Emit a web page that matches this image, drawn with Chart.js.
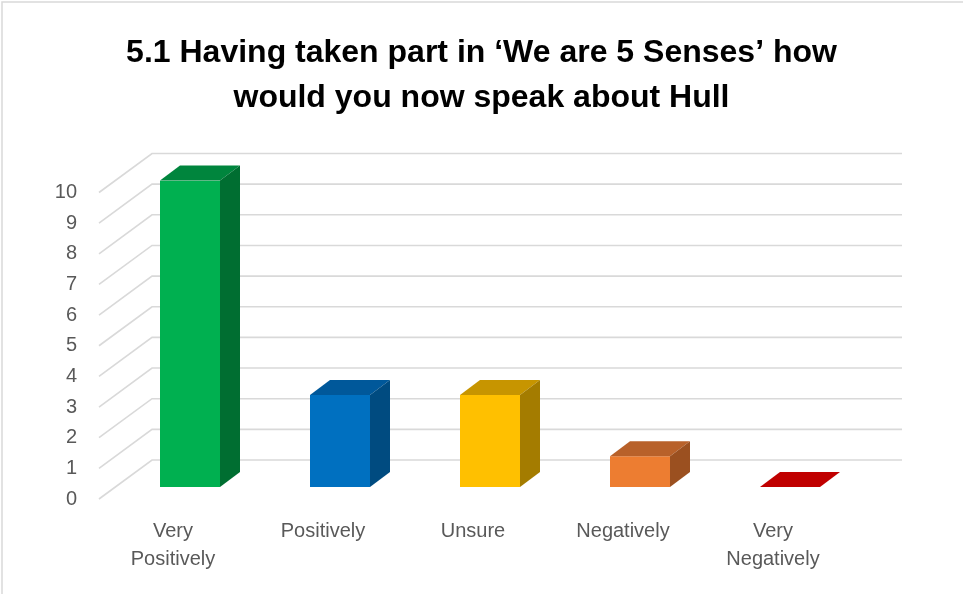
<!DOCTYPE html>
<html>
<head>
<meta charset="utf-8">
<script src="https://cdn.jsdelivr.net/npm/chart.js@4/dist/chart.umd.min.js"></script>
<style>
  html, body { margin: 0; padding: 0; background: #ffffff; }
  canvas { display: block; }
</style>
</head>
<body>
<canvas id="c" width="963" height="594"></canvas>
<script>
// ---- data ----
const titleLines = ['5.1 Having taken part in \u2018We are 5 Senses\u2019 how', 'would you now speak about Hull'];
const categories = ['Very Positively', 'Positively', 'Unsure', 'Negatively', 'Very Negatively'];
const responses = [10, 3, 3, 1, 0];
const yTicks = [0, 1, 2, 3, 4, 5, 6, 7, 8, 9, 10];

// ---- styles ----
const frontColors = ['#00B050', '#0070C0', '#FFC000', '#ED7D31', '#C00000'];
const topColors   = ['#00853D', '#00589A', '#C79500', '#B8612A', '#C00000'];
const sideColors  = ['#006E31', '#004B80', '#A47C00', '#9B5020', '#8F0000'];

const DEPTH_DX = 20, DEPTH_DY = -15;   // bar depth
const WALL_DX = 37, WALL_DY = -27;     // back wall offset from bar front plane
const FRONT_DX = -16, FRONT_DY = 12;   // front plane offset from bar front plane
const GRID = '#d9d9d9';

const threeD = {
  id: 'threeD',
  beforeDraw(chart) {
    const ctx = chart.ctx;
    ctx.save();
    ctx.fillStyle = '#ffffff';
    ctx.fillRect(0, 0, chart.width, chart.height);
    ctx.strokeStyle = GRID;
    ctx.lineWidth = 1.5;
    ctx.beginPath();
    ctx.moveTo(2, chart.height); ctx.lineTo(2, 2); ctx.lineTo(chart.width, 2);
    ctx.stroke();
    ctx.restore();
  },
  beforeDatasetsDraw(chart) {
    const ctx = chart.ctx, y = chart.scales.y, area = chart.chartArea;
    ctx.save();
    ctx.strokeStyle = GRID;
    ctx.lineWidth = 1.6;
    yTicks.forEach(v => {
      const py = y.getPixelForValue(v);
      ctx.beginPath();
      ctx.moveTo(area.left + FRONT_DX, py + FRONT_DY);
      ctx.lineTo(area.left + WALL_DX, py + WALL_DY);
      ctx.lineTo(area.right + WALL_DX, py + WALL_DY);
      ctx.stroke();
    });
    ctx.restore();
  },
  afterDatasetsDraw(chart) {
    const ctx = chart.ctx;
    const meta = chart.getDatasetMeta(0);
    ctx.save();
    meta.data.forEach((bar, i) => {
      const x1 = bar.x - bar.width / 2, x2 = bar.x + bar.width / 2;
      const top = bar.y, base = bar.base;
      ctx.fillStyle = topColors[i];
      ctx.beginPath();
      ctx.moveTo(x1, top);
      ctx.lineTo(x2, top);
      ctx.lineTo(x2 + DEPTH_DX, top + DEPTH_DY);
      ctx.lineTo(x1 + DEPTH_DX, top + DEPTH_DY);
      ctx.closePath();
      ctx.fill();
      if (base - top > 0.5) {
        ctx.fillStyle = sideColors[i];
        ctx.beginPath();
        ctx.moveTo(x2, top);
        ctx.lineTo(x2 + DEPTH_DX, top + DEPTH_DY);
        ctx.lineTo(x2 + DEPTH_DX, base + DEPTH_DY);
        ctx.lineTo(x2, base);
        ctx.closePath();
        ctx.fill();
      }
    });
    ctx.restore();
  }
};

new Chart(document.getElementById('c'), {
  type: 'bar',
  data: {
    labels: categories,
    datasets: [{
      data: responses,
      backgroundColor: frontColors,
      borderWidth: 0,
      categoryPercentage: 1.0,
      barPercentage: 0.4
    }]
  },
  options: {
    responsive: false,
    animation: false,
    devicePixelRatio: 1,
    layout: { padding: 0 },
    plugins: {
      legend: { display: false },
      tooltip: { enabled: false },
      title: {
        display: true,
        text: titleLines,
        color: '#000000',
        font: { family: 'Liberation Sans, Arial, sans-serif', size: 32, weight: 'bold', lineHeight: 1.406 },
        padding: { top: 31, bottom: 59.5 }
      }
    },
    scales: {
      x: {
        grid: { display: false, drawTicks: false },
        border: { display: false },
        ticks: {
          color: '#595959',
          font: { family: 'Liberation Sans, Arial, sans-serif', size: 20, lineHeight: 1.4 },
          padding: 30,
          labelOffset: -17,
          maxRotation: 0,
          minRotation: 0,
          autoSkip: false,
          callback: (v, i) => categories[i].includes(' ') ? categories[i].split(' ') : categories[i]
        },
        afterFit: s => { s.height = 107; }
      },
      y: {
        min: 0,
        max: 10,
        grid: { display: false, drawTicks: false },
        border: { display: false },
        afterBuildTicks: s => { s.ticks = yTicks.map(v => ({ value: v })); },
        ticks: {
          color: '#595959',
          font: { family: 'Liberation Sans, Arial, sans-serif', size: 20 },
          padding: 38,
          labelOffset: 12,
          stepSize: 1
        },
        afterFit: s => { s.width = 115; }
      },
      yRight: {
        type: 'linear',
        position: 'right',
        display: true,
        grid: { display: false, drawTicks: false },
        border: { display: false },
        ticks: { display: false },
        afterFit: s => { s.width = 98; }
      }
    }
  },
  plugins: [threeD]
});
</script>
</body>
</html>
